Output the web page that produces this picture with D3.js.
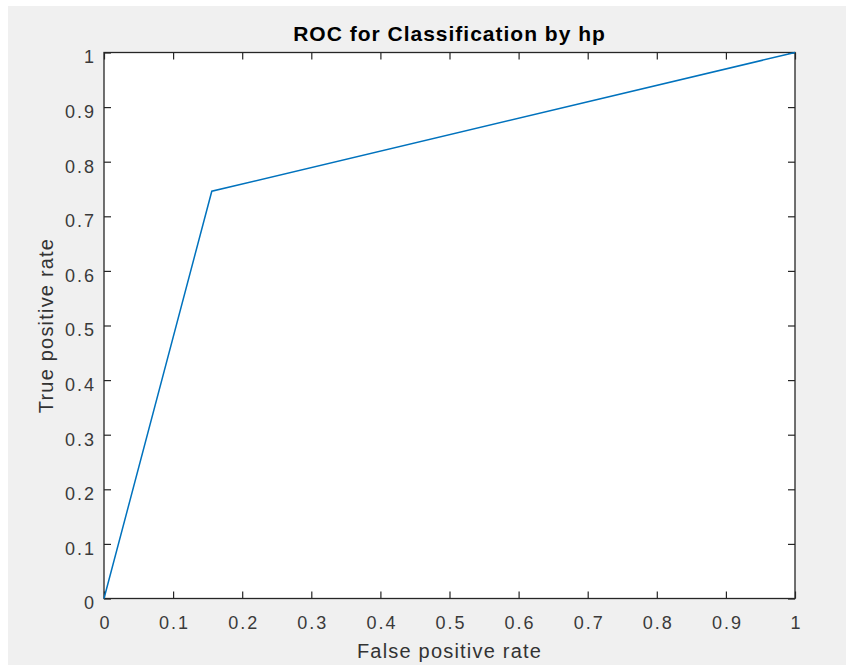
<!DOCTYPE html>
<html>
<head>
<meta charset="utf-8">
<script src="https://cdn.jsdelivr.net/npm/d3@7"></script>
<style>
  body { margin: 0; background: #fff; }
  text { font-family: "Liberation Sans", Arial, sans-serif; }
</style>
</head>
<body>
<svg width="846" height="665"></svg>
<script>
// ROC curve points
const fpr = [0, 0.156, 1];
const tpr = [0, 0.746, 1];
const tickValues = [0, 0.1, 0.2, 0.3, 0.4, 0.5, 0.6, 0.7, 0.8, 0.9, 1];
const title = "ROC for Classification by hp";
const xLabel = "False positive rate";
const yLabel = "True positive rate";

const svg = d3.select("svg");
const plotLeft = 104, plotRight = 795, plotTop = 52.5, plotBottom = 598.5;

svg.append("rect")
  .attr("x", 8).attr("y", 6)
  .attr("width", 846 - 8).attr("height", 665 - 6)
  .attr("fill", "#f0f0f0");

svg.append("rect")
  .attr("x", plotLeft).attr("y", plotTop)
  .attr("width", plotRight - plotLeft).attr("height", plotBottom - plotTop)
  .attr("fill", "#fff");

const x = d3.scaleLinear().domain([0, 1]).range([plotLeft, plotRight]);
const y = d3.scaleLinear().domain([0, 1]).range([plotBottom, plotTop]);

const fmt = d => d3.format("")(+d.toFixed(1));
const axisColor = "#262626";

function styleAxis(g) {
  g.select(".domain").remove();
  g.attr("font-size", 18).attr("font-family", "Liberation Sans, Arial, sans-serif");
  g.selectAll(".tick line").attr("stroke", axisColor).attr("stroke-width", 1.2);
  g.selectAll(".tick text").attr("fill", "#3a3a3a").attr("letter-spacing", "2px");
}

// bottom axis (inward ticks)
svg.append("g")
  .attr("transform", "translate(0," + plotBottom + ")")
  .call(d3.axisBottom(x).tickValues(tickValues).tickSize(-7).tickPadding(18).tickFormat(fmt))
  .call(styleAxis)
  .call(g => g.selectAll(".tick text").attr("dx", "1px"));

// top axis ticks only
svg.append("g")
  .attr("transform", "translate(0," + plotTop + ")")
  .call(d3.axisTop(x).tickValues(tickValues).tickSize(-7).tickFormat(""))
  .call(styleAxis);

// left axis
svg.append("g")
  .attr("transform", "translate(" + plotLeft + ",0)")
  .call(d3.axisLeft(y).tickValues(tickValues).tickSize(-7).tickPadding(8).tickFormat(fmt))
  .call(styleAxis)
  .call(g => g.selectAll(".tick text").attr("dy", "0.58em"));

// right axis ticks only
svg.append("g")
  .attr("transform", "translate(" + plotRight + ",0)")
  .call(d3.axisRight(y).tickValues(tickValues).tickSize(-7).tickFormat(""))
  .call(styleAxis);

// box
svg.append("rect")
  .attr("x", plotLeft).attr("y", plotTop)
  .attr("width", plotRight - plotLeft).attr("height", plotBottom - plotTop)
  .attr("fill", "none")
  .attr("stroke", axisColor)
  .attr("stroke-width", 1.3);

// curve
const pts = fpr.map((d, i) => [d, tpr[i]]);
svg.append("path")
  .datum(pts)
  .attr("fill", "none")
  .attr("stroke", "#0072BD")
  .attr("stroke-width", 1.5)
  .attr("d", d3.line().x(d => x(d[0])).y(d => y(d[1])));

// title
svg.append("text")
  .attr("x", (plotLeft + plotRight) / 2).attr("y", 41)
  .attr("text-anchor", "middle")
  .style("font-size", "21px").style("font-weight", "bold").style("letter-spacing", "1px")
  .attr("fill", "#000")
  .text(title);

// axis labels
svg.append("text")
  .attr("x", (plotLeft + plotRight) / 2).attr("y", 658)
  .attr("text-anchor", "middle")
  .style("font-size", "20px").style("letter-spacing", "1.2px")
  .attr("fill", "#333")
  .text(xLabel);

svg.append("text")
  .attr("transform", "translate(53," + ((plotTop + plotBottom) / 2) + ") rotate(-90)")
  .attr("text-anchor", "middle")
  .style("font-size", "20px").style("letter-spacing", "1.2px")
  .attr("fill", "#333")
  .text(yLabel);
</script>
</body>
</html>
